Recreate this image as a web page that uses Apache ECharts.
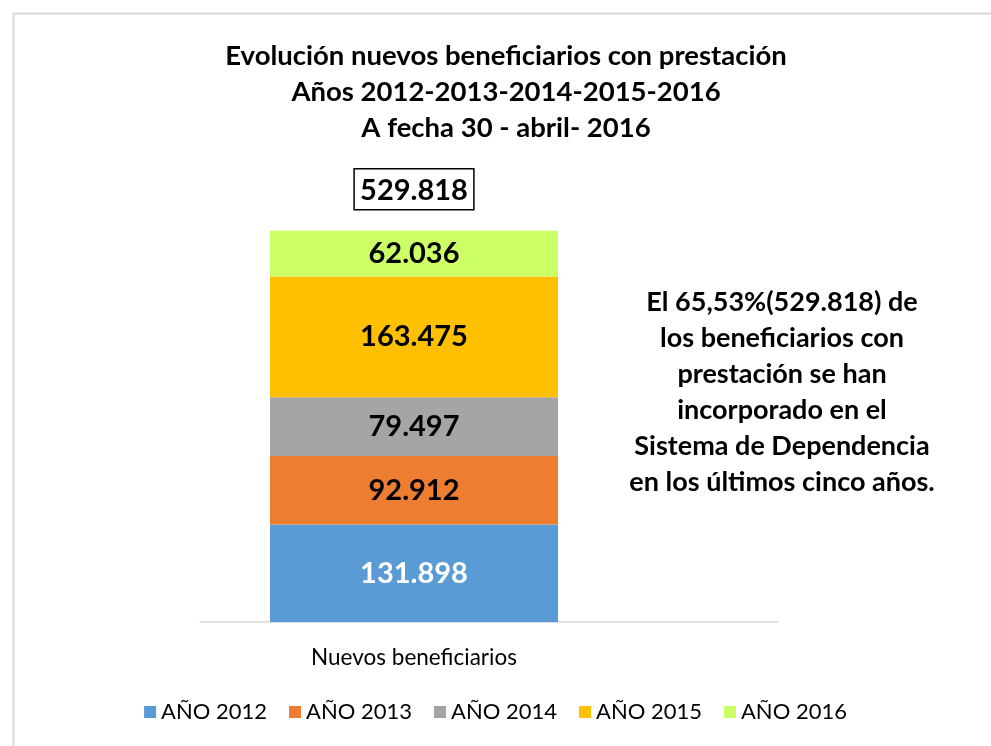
<!DOCTYPE html>
<html>
<head>
<meta charset="utf-8">
<title>Evolución nuevos beneficiarios con prestación</title>
<script src="https://cdn.jsdelivr.net/npm/echarts@6/dist/echarts.min.js"></script>
<style>
    html, body { margin: 0; padding: 0; background: #fff; }
    #chart { width: 991px; height: 746px; }
</style>
</head>
<body>
<div id="chart"></div>
<script>
// datos
const categories = ['Nuevos beneficiarios'];
const seriesNames = ['AÑO 2012', 'AÑO 2013', 'AÑO 2014', 'AÑO 2015', 'AÑO 2016'];
const values2012 = [131898];
const values2013 = [92912];
const values2014 = [79497];
const values2015 = [163475];
const values2016 = [62036];
const totals = [529818];
const seriesColors = ['#5B9BD5', '#ED7D31', '#A5A5A5', '#FFC000', '#CCFF66'];
const labelColors = ['#ffffff', '#000000', '#000000', '#000000', '#000000'];
const titleLines = [
    'Evolución nuevos beneficiarios con prestación',
    'Años 2012-2013-2014-2015-2016',
    'A fecha 30 - abril- 2016'
];
const noteLines = [
    'El 65,53%(529.818) de',
    'los beneficiarios con',
    'prestación se han',
    'incorporado en el',
    'Sistema de Dependencia',
    'en los últimos cinco años.'
];

const FONT = 'Lato, "Open Sans", sans-serif';

function fmt(v) {
    // separador de miles con punto
    return String(v).replace(/\B(?=(\d{3})+(?!\d))/g, '.');
}

document.addEventListener('DOMContentLoaded', function () {
    let myChart = echarts.init(document.getElementById('chart'), null, { renderer: 'canvas' });

    const allValues = [values2012, values2013, values2014, values2015, values2016];
    let series = allValues.map((vals, i) => ({
        name: seriesNames[i],
        type: 'bar',
        stack: 'total',
        xAxisIndex: 0,
        yAxisIndex: 0,
        barWidth: 288,
        barGap: '-100%',
        itemStyle: { color: seriesColors[i] },
        label: {
            show: true,
            position: 'inside',
            color: labelColors[i],
            fontFamily: FONT,
            fontWeight: 'bold',
            fontSize: 29,
            formatter: p => fmt(p.value)
        },
        data: vals
    }));

    // etiqueta del total, encima de la columna
    series.push({
        name: 'Total',
        type: 'bar',
        xAxisIndex: 0,
        yAxisIndex: 0,
        barWidth: 288,
        barGap: '-100%',
        silent: true,
        itemStyle: { color: 'rgba(0,0,0,0)' },
        label: {
            show: true,
            position: 'top',
            distance: 21,
            color: '#000',
            fontFamily: FONT,
            fontWeight: 'bold',
            fontSize: 29,
            borderColor: '#000',
            borderWidth: 1.5,
            padding: [7, 6, 5, 6],
            formatter: p => fmt(p.value)
        },
        z: 1,
        data: totals
    });

    let option = {
        backgroundColor: '#fff',
        animation: false,
        title: {
            text: titleLines.join('\n'),
            left: 501,
            top: 33,
            textAlign: 'center',
            textStyle: {
                fontFamily: FONT,
                fontWeight: 'bold',
                fontSize: 27.5,
                lineHeight: 36,
                color: '#000'
            }
        },
        legend: {
            data: seriesNames,
            bottom: 18,
            left: 'center',
            itemWidth: 12,
            itemHeight: 12,
            itemGap: 22,
            icon: 'rect',
            textStyle: {
                fontFamily: FONT,
                fontSize: 22,
                color: '#000'
            }
        },
        grid: [
            { left: 200, width: 428, top: 179, bottom: 124 },
            { left: 200, right: 213, top: 179, bottom: 124 }
        ],
        xAxis: [
            {
                type: 'category',
                gridIndex: 0,
                data: categories,
                axisLine: { show: false },
                axisTick: { show: false },
                axisLabel: {
                    margin: 24,
                    fontFamily: FONT,
                    fontSize: 22.5,
                    color: '#000'
                }
            },
            {
                type: 'category',
                gridIndex: 1,
                data: [''],
                axisLine: { show: true, lineStyle: { color: '#d9d9d9', width: 1.5 } },
                axisTick: { show: false },
                axisLabel: { show: false }
            }
        ],
        yAxis: [
            { type: 'value', gridIndex: 0, min: 0, max: 600000, show: false },
            { type: 'value', gridIndex: 1, min: 0, max: 600000, show: false }
        ],
        series: series,
        graphic: [
            {
                type: 'rect',
                left: 11,
                top: 11,
                shape: { width: 1000, height: 734 },
                style: { fill: 'none', stroke: '#d9d9d9', lineWidth: 2 },
                silent: true
            },
            {
                type: 'text',
                x: 782,
                y: 284,
                style: {
                    text: noteLines.join('\n'),
                    align: 'center',
                    verticalAlign: 'top',
                    fill: '#000',
                    font: 'bold 27px ' + FONT,
                    lineHeight: 36
                }
            }
        ]
    };

    myChart.setOption(option);
});
</script>
</body>
</html>
